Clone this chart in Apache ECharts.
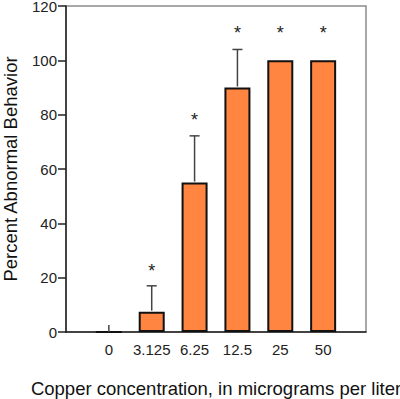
<!DOCTYPE html>
<html>
<head>
<meta charset="utf-8">
<script src="https://cdn.jsdelivr.net/npm/echarts@6/dist/echarts.min.js"></script>
<style>
  html, body { margin: 0; padding: 0; background: #fff; }
  #chart { width: 400px; height: 399px; }
</style>
</head>
<body>
<div id="chart"></div>
<script>
const categories = ['0', '3.125', '6.25', '12.5', '25', '50'];
const values = [0, 7.5, 55, 90, 100, 100];
const errorTops = [0, 17, 72.2, 104, 100, 100];
const starLevels = [null, 23.5, 79, 111, 111, 111];
const yTicks = [0, 20, 40, 60, 80, 100, 120];

const FONT = 'Liberation Sans, Arial, sans-serif';

const chart = echarts.init(document.getElementById('chart'), null, { renderer: 'svg' });

const barData = values.map((v, i) => [i, v]);
const extraData = values.map((v, i) => [i, v, errorTops[i], starLevels[i]]);

chart.setOption({
  animation: false,
  grid: {
    left: 66, right: 34, top: 6, bottom: 67,
    outerBoundsMode: 'none',
    containLabel: false,
    show: true, borderColor: '#8c8c8c', borderWidth: 1.5
  },
  xAxis: {
    type: 'value',
    min: -1, max: 6, interval: 1,
    name: 'Copper concentration, in micrograms per liter',
    nameLocation: 'middle', nameGap: 47,
    nameTextStyle: { fontFamily: FONT, fontSize: 18.5, color: '#111' },
    axisLine: { show: true, onZero: false, lineStyle: { color: '#222', width: 1.5 } },
    axisTick: { show: false },
    splitLine: { show: false },
    axisLabel: {
      fontFamily: FONT, fontSize: 15, color: '#222', margin: 10,
      formatter: v => categories[v] !== undefined ? categories[v] : ''
    }
  },
  yAxis: {
    type: 'value',
    min: 0, max: 120, interval: 20,
    name: 'Percent Abnormal Behavior',
    nameLocation: 'middle', nameGap: 46,
    nameTextStyle: { fontFamily: FONT, fontSize: 18.5, color: '#111' },
    axisLine: { show: true, onZero: false, lineStyle: { color: '#222', width: 1.5 } },
    axisTick: { show: true, inside: false, length: 8, lineStyle: { color: '#222', width: 1.5 } },
    splitLine: { show: false },
    axisLabel: {
      fontFamily: FONT, fontSize: 15, color: '#222', margin: 9,
      formatter: v => yTicks.includes(v) ? String(v) : ''
    }
  },
  series: [
    {
      type: 'bar',
      data: barData,
      barWidth: 26,
      itemStyle: { color: '#FF8540', borderColor: '#111', borderWidth: 2 }
    },
    {
      type: 'custom',
      data: extraData,
      z: 5,
      renderItem: function (params, api) {
        const i = api.value(0);
        const v = api.value(1);
        const top = api.value(2);
        const star = api.value(3);
        const base = api.coord([i, v]);
        const children = [];
        if (v === 0) {
          // small marker at the zero-height bar
          children.push({
            type: 'line',
            shape: { x1: base[0], y1: base[1], x2: base[0], y2: base[1] - 7 },
            style: { stroke: '#444', lineWidth: 1.5 }
          });
        }
        if (top > v) {
          const t = api.coord([i, top]);
          children.push({
            type: 'line',
            shape: { x1: base[0], y1: base[1] - 1, x2: t[0], y2: t[1] },
            style: { stroke: '#444', lineWidth: 1.5 }
          });
          children.push({
            type: 'line',
            shape: { x1: t[0] - 5, y1: t[1], x2: t[0] + 5, y2: t[1] },
            style: { stroke: '#444', lineWidth: 1.5 }
          });
        }
        if (star !== null && !isNaN(star)) {
          const s = api.coord([i, star]);
          children.push({
            type: 'text',
            x: s[0], y: s[1] + 3,
            style: {
              text: '*', fontFamily: FONT, fontSize: 18, fill: '#222',
              align: 'center', verticalAlign: 'middle'
            }
          });
        }
        return { type: 'group', children: children };
      }
    }
  ]
});
</script>
</body>
</html>
